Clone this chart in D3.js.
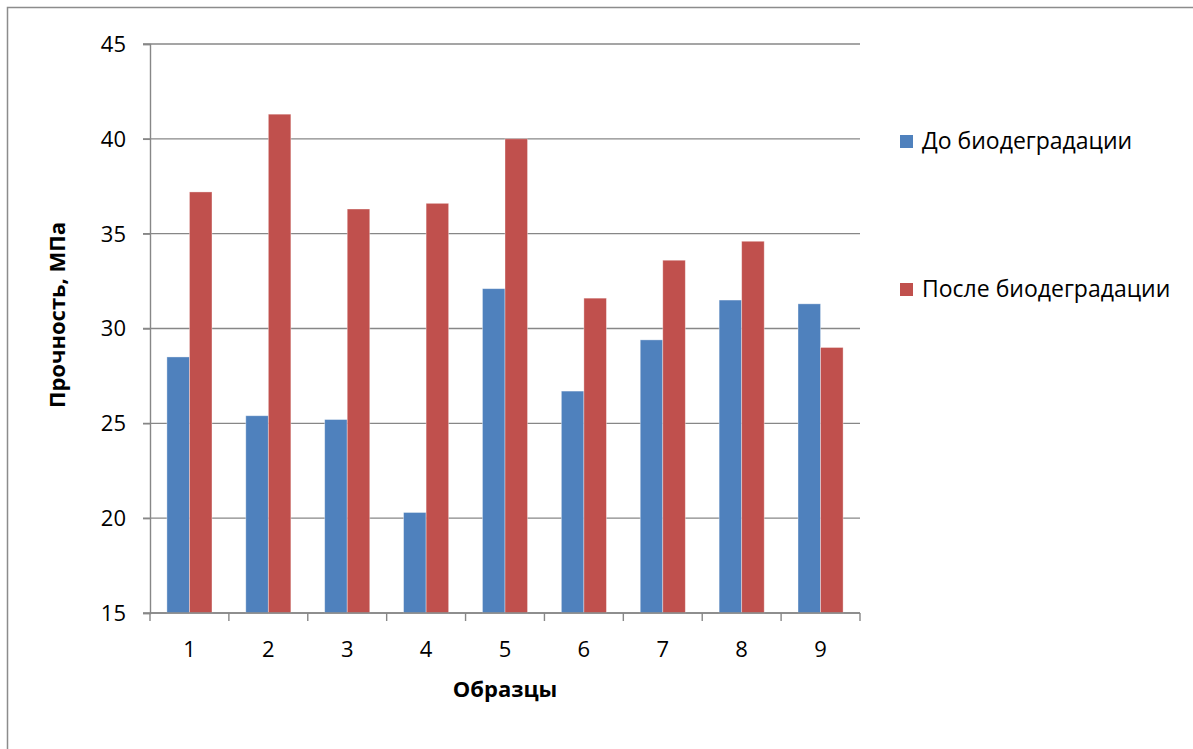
<!DOCTYPE html>
<html>
<head>
<meta charset="utf-8">
<script src="https://cdn.jsdelivr.net/npm/d3@7"></script>
<style>
  html, body { margin: 0; padding: 0; background: #fff; }
  svg { display: block; }
  text { font-family: "Open Sans", "Noto Sans", sans-serif; fill: #000; }
</style>
</head>
<body>
<svg id="chart" width="1193" height="749"></svg>
<script>
// Samples and tensile strength (MPa) before / after biodegradation
const samples = ["1", "2", "3", "4", "5", "6", "7", "8", "9"];
const seriesNames = ["До биодеградации", "После биодеградации"];
const beforeValues = [28.5, 25.4, 25.2, 20.3, 32.1, 26.7, 29.4, 31.5, 31.3];
const afterValues  = [37.2, 41.3, 36.3, 36.6, 40.0, 31.6, 33.6, 34.6, 29.0];
const yTicks = [15, 20, 25, 30, 35, 40, 45];
const colors = ["#4F81BD", "#C0504D"];

const svg = d3.select("#chart");
const W = 1193, H = 749;
const plot = { left: 150, right: 860, top: 44, bottom: 613 };

// outer chart frame (left and top edges visible)
svg.append("path")
  .attr("d", `M7.5,${H} V7.5 H${W}`)
  .attr("fill", "none")
  .attr("stroke", "#8c8c8c")
  .attr("stroke-width", 1.5);

const x = d3.scaleBand().domain(samples).range([plot.left, plot.right]).padding(0);
const step = x.step();
const gap = 1.5; // gap width relative to a single bar
const barW = step / (seriesNames.length + gap);
const xs = d3.scaleBand().domain(seriesNames)
  .range([gap * barW / 2, gap * barW / 2 + barW * seriesNames.length]).padding(0);

const y = d3.scaleLinear().domain([15, 45]).range([plot.bottom, plot.top]);

// horizontal gridlines
svg.append("g")
  .selectAll("line")
  .data(yTicks)
  .join("line")
  .attr("x1", plot.left - 7)
  .attr("x2", plot.right)
  .attr("y1", d => y(d))
  .attr("y2", d => y(d))
  .attr("stroke", "#878787")
  .attr("stroke-width", 1.4);

// bars
const rows = samples.map((s, i) => ({ s, vals: [beforeValues[i], afterValues[i]] }));
const groups = svg.append("g").selectAll("g")
  .data(rows)
  .join("g")
  .attr("transform", d => `translate(${x(d.s)},0)`);

groups.selectAll("rect")
  .data(d => d.vals.map((v, k) => ({ v, k })))
  .join("rect")
  .attr("x", d => xs(seriesNames[d.k]))
  .attr("width", xs.bandwidth())
  .attr("y", d => y(d.v))
  .attr("height", d => y(15) - y(d.v))
  .attr("fill", d => colors[d.k])
  .attr("stroke", "rgba(255,255,255,0.45)")
  .attr("stroke-width", 0.8);

// y axis
const yAxis = d3.axisLeft(y).tickValues(yTicks).tickSize(7).tickPadding(12);
const gy = svg.append("g").attr("transform", `translate(${plot.left},0)`).call(yAxis);
gy.select(".domain").attr("stroke", "#878787").attr("stroke-width", 1.4);
gy.selectAll(".tick line").attr("stroke", "#878787").attr("stroke-width", 1.4);
gy.selectAll(".tick text")
  .style("font-size", "22px")
  .attr("dy", "0.34em")
  .attr("x", -24);

// x axis: ticks on category boundaries
const gx = svg.append("g").attr("transform", `translate(0,${plot.bottom})`);
gx.append("line")
  .attr("x1", plot.left).attr("x2", plot.right)
  .attr("stroke", "#878787").attr("stroke-width", 1.4);
const boundaries = samples.map(s => x(s)).concat([plot.right]);
gx.selectAll(".bt")
  .data(boundaries)
  .join("line")
  .attr("class", "bt")
  .attr("x1", d => d).attr("x2", d => d)
  .attr("y1", 0).attr("y2", 8)
  .attr("stroke", "#878787").attr("stroke-width", 1.4);
gx.selectAll(".lbl")
  .data(samples)
  .join("text")
  .attr("class", "lbl")
  .attr("x", d => x(d) + step / 2)
  .attr("y", 44)
  .attr("text-anchor", "middle")
  .style("font-size", "22px")
  .text(d => d);

// axis titles
svg.append("text")
  .attr("x", 505)
  .attr("y", 697)
  .attr("text-anchor", "middle")
  .style("font-size", "22px")
  .style("font-weight", "bold")
  .text("Образцы");

svg.append("text")
  .attr("transform", "translate(65,315) rotate(-90)")
  .attr("text-anchor", "middle")
  .style("font-size", "22px")
  .style("font-weight", "bold")
  .text("Прочность, МПа");

// legend
const legendY = [141, 289];
const lg = svg.append("g").selectAll("g")
  .data(seriesNames)
  .join("g")
  .attr("transform", (d, i) => `translate(900,${legendY[i]})`);
lg.append("rect")
  .attr("x", 0).attr("y", -6)
  .attr("width", 13).attr("height", 13)
  .attr("fill", (d, i) => colors[i]);
lg.append("text")
  .attr("x", 22)
  .attr("y", 0)
  .attr("dy", "0.35em")
  .style("font-size", "23px")
  .text(d => d);
</script>
</body>
</html>
